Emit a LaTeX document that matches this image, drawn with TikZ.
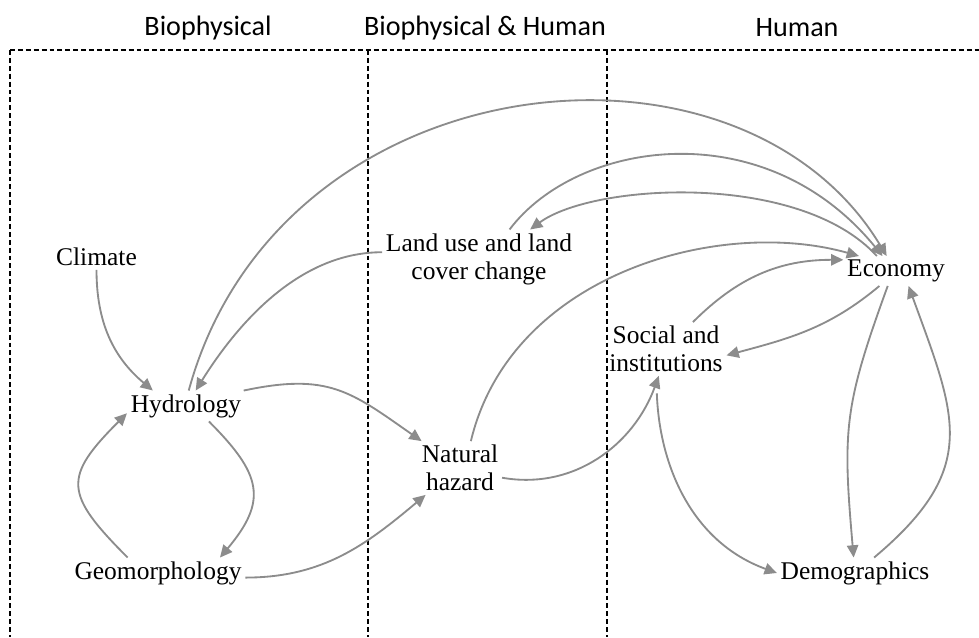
\documentclass[tikz,border=0pt]{standalone}
\usepackage{fontspec}
\setmainfont{Liberation Serif}
\newfontfamily\headfont{Carlito}
\usepackage{xcolor}
\usetikzlibrary{arrows.meta}
\definecolor{linkgray}{RGB}{140,140,140}

\begin{document}
\begin{tikzpicture}[->,>={Triangle[length=7pt,width=6.5pt]},x=0.02cm,y=0.02cm,thin]
    \tikzset{every node/.style={font=\fontsize{14.5}{16}\selectfont, align=center, inner sep=2pt},
             every edge/.style={draw=linkgray, line width=1.05pt},
             link/.style={draw=linkgray, line width=1.05pt},
             heading/.style={font=\headfont\fontsize{16}{19}\selectfont},
             divider/.style={-, draw=black, line width=0.6pt, dash pattern=on 2.8pt off 1.7pt}}

    \useasboundingbox (0,0) rectangle (979,637);

    % columns
    \draw[divider] (10,587) -- (979,587);
    \foreach \x in {10,368,607} \draw[divider] (\x,587) -- (\x,0);

    \node[heading] (bio) at (208,609) {Biophysical};
    \node[heading] (both) at (485,609) {Biophysical \& Human};
    \node[heading] (hum) at (797,609) {Human};

    % factors
    \node (climate) at (96.5,380) {Climate};
    \node (hydro) at (186,231) {Hydrology};
    \node (geo) at (158,64) {Geomorphology};
    \node (land) at (479,378) {Land use and land\\cover change};
    \node (hazard) at (460,169) {Natural\\hazard};
    \node (social) at (666,288) {Social and\\institutions};
    \node (eco) at (896,366) {Economy};
    \node (demo) at (855,64) {Demographics};

    % links
    \path (climate.south) edge[out=-90, in=140] (hydro.155);
    \path (geo.153) edge[out=135, in=225, looseness=1.6] (hydro.187);
    \path (hydro.-34) edge[out=-45, in=50, looseness=1.4] (geo.14);
    \path (land.176) edge[out=180, in=58, looseness=0.9] (hydro.58);
    \path (hydro.15) edge[out=12, in=145, looseness=1.2] (hazard.145);
    \path (geo.-3) edge[out=0, in=220] (hazard.218);
    \draw[link] (hydro.80) .. controls +(90,330) and +(-147,245) .. (eco.122);
    \draw[link] (land.44) .. controls +(67.5,89.5) and +(-118,144.5) .. (eco.132);
    \draw[link] (eco.142) .. controls +(-77,84.5) and +(63.4,46.5) .. (land.30);
    \draw[link] (hazard.68) .. controls +(40,167) and +(-140,39.5) .. (eco.158);
    \path (social.45) edge[out=45, in=180] (eco.168);
    \path (eco.222) edge[out=220, in=15] (social.-6);
    \path (eco.241) edge[out=-110, in=95, looseness=1.2] (demo.95);
    \path (demo.39) edge[out=40, in=-70, looseness=1.3] (eco.-50);
    \path (hazard.-13) edge[out=-10, in=250] (social.255);
    \path (social.250) edge[out=-88, in=160, shorten <=10pt] (demo.west);
\end{tikzpicture}
\end{document}
